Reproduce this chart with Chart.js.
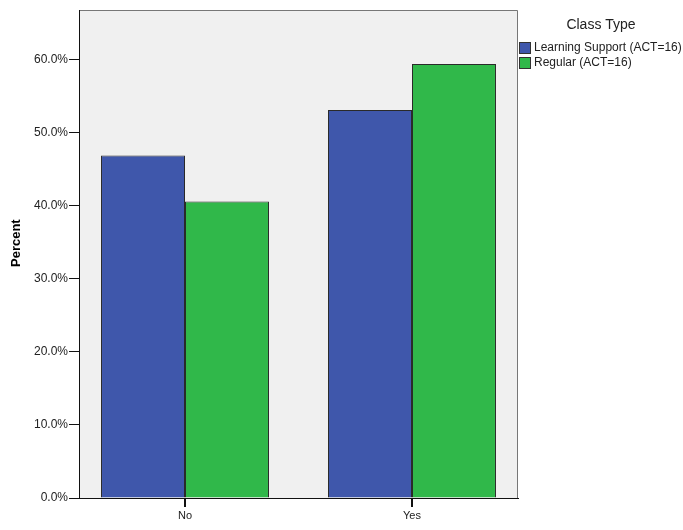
<!doctype html>
<html lang="en">
<head>
<meta charset="utf-8">
<title>Class Type</title>
<script src="https://cdn.jsdelivr.net/npm/chart.js"></script>
<style>
  html, body { margin: 0; padding: 0; background: #fff; }
  #wrap { width: 683px; height: 530px; }
</style>
</head>
<body>
<div id="wrap"><canvas id="barChart" width="683" height="530"></canvas></div>
<script>
// data
const categories = ['No', 'Yes'];
const learningSupport = [46.9, 53.1];
const regular = [40.6, 59.4];
const seriesNames = ['Learning Support (ACT=16)', 'Regular (ACT=16)'];
const seriesColors = ['#3f57ab', '#30b84a'];
const yTicks = [0, 10, 20, 30, 40, 50, 60];

const FONT = "'Liberation Sans', Arial, sans-serif";

// grey plot box, grey frame on top/right
const plotBox = {
  id: 'plotBox',
  beforeDraw(chart) {
    const a = chart.chartArea, ctx = chart.ctx;
    ctx.save();
    ctx.fillStyle = '#f0f0f0';
    ctx.fillRect(a.left, a.top, a.right - a.left, a.bottom - a.top);
    ctx.strokeStyle = '#777';
    ctx.lineWidth = 1;
    ctx.beginPath();
    ctx.moveTo(a.left, a.top + 0.5);
    ctx.lineTo(a.right - 0.5, a.top + 0.5);
    ctx.lineTo(a.right - 0.5, a.bottom);
    ctx.stroke();
    ctx.restore();
  },
  // x tick marks under each category
  afterDraw(chart) {
    const xs = chart.scales.x, ctx = chart.ctx;
    ctx.save();
    ctx.fillStyle = '#111';
    categories.forEach((c, i) => {
      const px = Math.round(xs.getPixelForValue(i));
      ctx.fillRect(px - 1, xs.top, 2, 9);
    });
    ctx.restore();
  }
};

// legend to the right of the plot, SPSS style
const sideLegend = {
  id: 'sideLegend',
  afterDraw(chart) {
    const a = chart.chartArea, ctx = chart.ctx;
    ctx.save();
    ctx.fillStyle = '#222';
    ctx.font = '14px ' + FONT;
    ctx.textAlign = 'center';
    ctx.textBaseline = 'middle';
    ctx.fillText('Class Type', a.right + 83, 25);
    ctx.font = '12px ' + FONT;
    ctx.textAlign = 'left';
    chart.data.datasets.forEach((ds, i) => {
      const y = 48 + i * 15;
      ctx.fillStyle = ds.backgroundColor;
      ctx.fillRect(a.right + 1.5, y - 5.5, 11, 11);
      ctx.strokeStyle = '#333';
      ctx.strokeRect(a.right + 1.5, y - 5.5, 11, 11);
      ctx.fillStyle = '#222';
      ctx.fillText(ds.label, a.right + 16, y);
    });
    ctx.restore();
  }
};

const toPoints = vals => vals.map((v, i) => ({ x: i, y: v }));

const ctx = document.getElementById('barChart').getContext('2d');
const chart = new Chart(ctx, {
  type: 'bar',
  data: {
    datasets: [
      { label: seriesNames[0], data: toPoints(learningSupport), backgroundColor: seriesColors[0] },
      { label: seriesNames[1], data: toPoints(regular), backgroundColor: seriesColors[1] }
    ]
  },
  options: {
    responsive: false,
    animation: false,
    layout: { padding: { top: 10, right: 165, bottom: 0, left: 0 } },
    datasets: {
      bar: {
        borderColor: '#2a2a2a',
        borderWidth: 1,
        categoryPercentage: 0.74,
        barPercentage: 1
      }
    },
    plugins: {
      legend: { display: false },
      tooltip: { enabled: false }
    },
    scales: {
      x: {
        type: 'linear',
        offset: false,
        min: -0.467,
        max: 1.467,
        afterBuildTicks: s => { s.ticks = categories.map((c, i) => ({ value: i })); },
        afterFit: s => { s.height = 32; },
        grid: { offset: false, drawOnChartArea: false, drawTicks: false },
        border: { color: '#111', width: 1 },
        ticks: {
          callback: v => categories[v],
          font: { family: FONT, size: 11 },
          color: '#222',
          padding: 11,
          maxRotation: 0
        }
      },
      y: {
        min: 0,
        max: 66.8,
        afterBuildTicks: s => { s.ticks = yTicks.map(v => ({ value: v })); },
        afterFit: s => { s.width = 79; },
        grid: { drawOnChartArea: false, color: '#111', tickLength: 10 },
        border: { color: '#111', width: 1 },
        ticks: {
          callback: v => v.toFixed(1) + '%',
          font: { family: FONT, size: 12 },
          color: '#222',
          padding: 1
        },
        title: {
          display: true,
          text: '      Percent',   // leading spaces nudge the title up a little, as in the original
          color: '#000',
          font: { family: FONT, size: 13, weight: 'bold' },
          padding: { top: 9, bottom: 0 }
        }
      }
    }
  },
  plugins: [plotBox, sideLegend]
});
</script>
</body>
</html>
